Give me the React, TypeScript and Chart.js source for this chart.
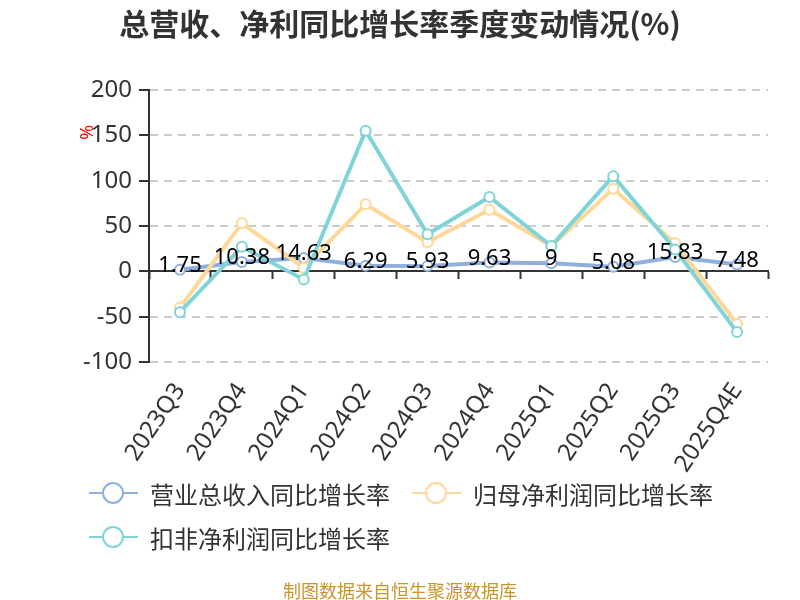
import React, { useEffect, useRef } from "react";
import { Chart, registerables } from "chart.js";

Chart.register(...registerables);

const categories = ["2023Q3", "2023Q4", "2024Q1", "2024Q2", "2024Q3", "2024Q4", "2025Q1", "2025Q2", "2025Q3", "2025Q4E"];
const revenueGrowth = [1.75, 10.38, 14.63, 6.29, 5.93, 9.63, 9, 5.08, 15.83, 7.48];
const netProfitGrowth = [-40, 53, 4, 74, 32, 68, 28, 91, 31, -58];
const deductedProfitGrowth = [-45, 27, -9, 155, 41, 82, 28, 105, 24, -67];
const seriesNames = ["营业总收入同比增长率", "归母净利润同比增长率", "扣非净利润同比增长率"];
const seriesColors = ["#8fb0df", "#ffd899", "#80d4d8"];
const yMin = -100;
const yMax = 200;
const yStep = 50;

const FONT = "'Noto Sans', 'Noto Sans CJK SC', sans-serif";
const CJK = "'Noto Sans CJK SC', 'Noto Sans', sans-serif";

const labelPlugin = {
  id: "valueLabels",
  afterDatasetsDraw(chart: any) {
    const ctx = chart.ctx;
    const meta = chart.getDatasetMeta(0);
    ctx.save();
    ctx.font = `22px ${FONT}`;
    ctx.fillStyle = "#000";
    ctx.textAlign = "center";
    ctx.textBaseline = "middle";
    meta.data.forEach((p: any, i: number) => {
      ctx.fillText(String(revenueGrowth[i]), p.x, p.y - 4);
    });
    ctx.restore();
    // unit mark
    const y = chart.scales.y;
    ctx.save();
    ctx.translate(chart.chartArea.left - 61, y.getPixelForValue(150) - 3);
    ctx.rotate(-Math.PI / 2);
    ctx.font = `18px ${FONT}`;
    ctx.fillStyle = "#ff0000";
    ctx.textAlign = "center";
    ctx.textBaseline = "middle";
    ctx.fillText("%", 0, 0);
    ctx.restore();
  },
};

function LegendItem({ name, color }: { name: string; color: string }) {
  return (
    <div style={{ display: "flex", alignItems: "center", marginRight: 22 }}>
      <div style={{ position: "relative", width: 49, height: 24, marginRight: 12 }}>
        <div style={{ position: "absolute", left: 0, right: 0, top: 11, height: 2, background: color }} />
        <div
          style={{
            position: "absolute",
            left: 13,
            top: 1,
            width: 18,
            height: 18,
            borderRadius: "50%",
            border: `2px solid ${color}`,
            background: "#fff",
          }}
        />
      </div>
      <span style={{ fontFamily: CJK, fontSize: 24, color: "#333", whiteSpace: "nowrap" }}>{name}</span>
    </div>
  );
}

export default function App() {
  const ref = useRef<HTMLCanvasElement | null>(null);
  useEffect(() => {
    if (!ref.current) return;
    const mk = (i: number, data: number[], order: number) => ({
      label: seriesNames[i],
      data,
      borderColor: seriesColors[i],
      backgroundColor: "#fff",
      pointBackgroundColor: "#fff",
      pointBorderColor: seriesColors[i],
      pointBorderWidth: 2,
      pointRadius: 5,
      borderWidth: 4,
      tension: 0,
      order,
    });
    const chart = new Chart(ref.current, {
      type: "line",
      data: {
        labels: categories,
        datasets: [mk(0, revenueGrowth, 3), mk(1, netProfitGrowth, 2), mk(2, deductedProfitGrowth, 1)],
      },
      options: {
        responsive: false,
        animation: false,
        layout: { padding: { left: 32, right: 32, top: 0, bottom: 118 } },
        plugins: {
          legend: { display: false },
          tooltip: { enabled: false },
          title: {
            display: true,
            text: "总营收、净利同比增长率季度变动情况(%)",
            color: "#333",
            font: { family: CJK, size: 30, weight: "bold", lineHeight: 1.2 },
            padding: { top: 6, bottom: 48 },
          },
        },
        scales: {
          x: {
            type: "category",
            offset: true,
            grid: { display: false },
            border: { display: false },
            ticks: {
              autoSkip: false,
              minRotation: 56,
              maxRotation: 56,
              padding: 8,
              color: "#333",
              font: { family: FONT, size: 24 },
            },
            afterFit: (s: any) => {
              s.height = 120;
            },
          },
          x2: {
            type: "category",
            position: { y: 0 } as any,
            offset: true,
            grid: {
              display: true,
              offset: true,
              drawOnChartArea: false,
              drawTicks: true,
              tickLength: 7,
              tickColor: "#333",
              tickWidth: 2,
            },
            border: { display: true, color: "#333", width: 2 },
            ticks: { display: false },
          },
          y: {
            min: yMin,
            max: yMax,
            ticks: {
              stepSize: yStep,
              padding: 7,
              color: "#333",
              font: { family: FONT, size: 24 },
            },
            grid: {
              color: (c: any) => (c.tick && c.tick.value === 0 ? "rgba(0,0,0,0)" : "#cccccc"),
              lineWidth: 2,
              drawTicks: true,
              tickLength: 10,
              tickColor: "#333",
              tickWidth: 2,
            },
            border: { display: true, color: "#333", width: 2, dash: [8, 6] },
            afterFit: (s: any) => {
              s.width = 117;
            },
          },
        },
      },
      plugins: [labelPlugin],
    });
    return () => chart.destroy();
  }, []);

  return (
    <div style={{ position: "absolute", left: 0, top: 0, width: 800, height: 600, background: "#fff" }}>
      <canvas ref={ref} width={800} height={600} style={{ position: "absolute", left: 0, top: 0 }} />
      <div style={{ position: "absolute", left: 89, top: 477, width: 700 }}>
        <div style={{ display: "flex", height: 32, alignItems: "center" }}>
          <LegendItem name={seriesNames[0]} color={seriesColors[0]} />
          <LegendItem name={seriesNames[1]} color={seriesColors[1]} />
        </div>
        <div style={{ display: "flex", height: 32, alignItems: "center", marginTop: 12 }}>
          <LegendItem name={seriesNames[2]} color={seriesColors[2]} />
        </div>
      </div>
      <div
        style={{
          position: "absolute",
          left: 0,
          width: 800,
          top: 577,
          textAlign: "center",
          fontFamily: CJK,
          fontSize: 18,
          color: "#c9952b",
        }}
      >
        制图数据来自恒生聚源数据库
      </div>
    </div>
  );
}
